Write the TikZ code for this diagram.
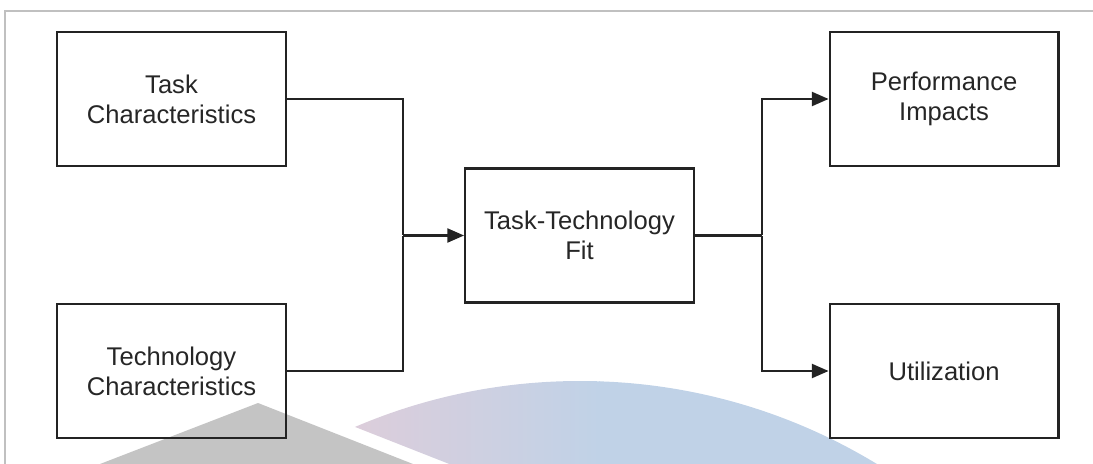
\documentclass[tikz,border=0pt]{standalone}
\usepackage{fontspec}
\setmainfont{Liberation Sans}
\usepackage{tikz}
\usetikzlibrary{arrows.meta,positioning}
\definecolor{boxLine}{RGB}{35,35,35}
\definecolor{frameGray}{RGB}{192,192,192}
\definecolor{markGray}{RGB}{196,196,196}
\definecolor{markPink}{RGB}{222,205,218}
\definecolor{markBlue}{RGB}{192,210,231}
\tikzstyle{block} = [draw=boxLine, line width=1.7pt, rectangle, minimum width=171.5pt, minimum height=100.5pt,
	align=center, inner sep=0pt, text=black!85, font=\fontsize{19.2}{22.5}\selectfont]
\tikzstyle{junction} = [inner sep=0, minimum size=0]
\tikzstyle{flowLine} = [draw=boxLine, line width=1.6pt]
\tikzstyle{flowArrow} = [flowLine, -{Triangle[length=12.5pt,width=10.5pt]}]

\begin{document}
\begin{tikzpicture}[x=0.75pt,y=-0.75pt,node distance=204pt]
		\useasboundingbox (0,0) rectangle (1093,464);
		% background mark
		\begin{scope}
			\clip (0,0) rectangle (1093,464);
			\fill[markGray] (258,403) -- (100,464) -- (413,464) -- cycle;		% grey wedge
			\begin{scope}
				\clip (580,953) circle (572);
				\clip (250,385.6) -- (600,523.3) -- (1100,523.3) -- (1100,300) -- (250,300) -- cycle;
				\shade[left color=markPink, right color=markBlue] (340,370) rectangle (600,470);
				\fill[markBlue] (599,370) rectangle (1100,470);
			\end{scope}
		\end{scope}
		\draw[frameGray, line width=1.1pt] (5,464) -- (5,11) -- (1093,11);	% page edge
		
		% nodes
		\node[block] (fit) at (579.5,235.5) {Task-Technology\\Fit};				% Mitte
		\node[block] (task) at (171.5,99) {Task\\Characteristics};
		\node[block, below of=task] (tech) {Technology\\Characteristics};
		\node[block, right of=task, node distance=579.4pt] (perf) {Performance\\Impacts};
		\node[block, below of=perf] (util) {Utilization};
		\node[junction, left of=fit, node distance=132.4pt] (task-tech-fit) {};	% Knoten vor Fit
		\node[junction, right of=fit, node distance=136.9pt] (fit-perf-util) {};	% Knoten nach Fit
		
		% arrows
		\draw[flowLine] (task) -| (task-tech-fit);
		\draw[flowLine] (tech) -| (task-tech-fit);
		\draw[flowArrow] (task-tech-fit) -- (fit);
		\draw[flowLine] (fit) -- (fit-perf-util);
		\draw[flowArrow] (fit-perf-util) |- (perf);
		\draw[flowArrow] (fit-perf-util) |- (util);
\end{tikzpicture}
\end{document}
